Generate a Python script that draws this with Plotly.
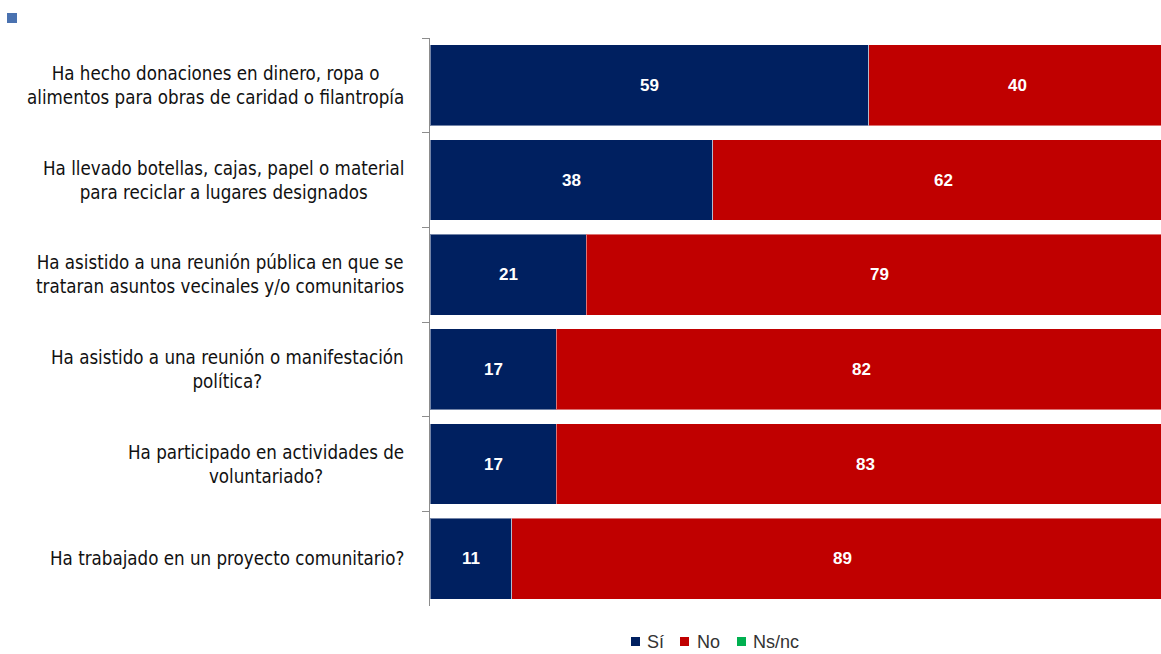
import plotly.graph_objects as go
import numpy as np

categories = [
    "Ha hecho donaciones en dinero, ropa o<br>alimentos para obras de caridad o filantropía",
    "Ha llevado botellas, cajas, papel o material<br>para reciclar a lugares designados",
    "Ha asistido a una reunión pública en que se<br>trataran asuntos vecinales y/o comunitarios",
    "Ha asistido a una reunión o manifestación<br>política?",
    "Ha participado en actividades de<br>voluntariado?",
    "Ha trabajado en un proyecto comunitario?",
]
series_names = ["Sí", "No", "Ns/nc"]
si = [59, 38, 21, 17, 17, 11]
no = [40, 62, 79, 82, 83, 89]
nsnc = [0, 0, 0, 1, 0, 0]
colors = ["#002060", "#C00000", "#00B050"]

W, H = 1161, 654
LABEL_FONT = "Liberation Sans Narrow, DejaVu Sans Condensed, Arial Narrow, sans-serif"
NUM_FONT = "Liberation Sans, Arial, sans-serif"

fig = go.Figure()
values = [si, no, nsnc]
for name, vals, col in zip(series_names, values, colors):
    fig.add_trace(go.Bar(
        y=categories, x=vals, name=name, orientation="h",
        marker=dict(color=col, line=dict(color="rgba(255,255,255,0.45)", width=1)),
        showlegend=False, hoverinfo="skip",
    ))

# value labels centred on each segment
cum = np.zeros(len(categories))
for vals in values:
    v = np.array(vals, dtype=float)
    for i, c in enumerate(categories):
        if v[i] > 0:
            fig.add_annotation(x=cum[i] + v[i] / 2, y=c, xref="x", yref="y",
                               text=f"<b>{int(v[i])}</b>", showarrow=False,
                               font=dict(color="white", size=17, family=NUM_FONT))
    cum += v

# category labels: right-aligned block, centred lines
for c in categories:
    fig.add_annotation(
        x=406 / W, xref="paper", xanchor="right", y=c, yref="y",
        text=c, showarrow=False, align="center",
        font=dict(size=18.6, color="#111111", family=LABEL_FONT),
    )

# small marker at top-left
fig.add_shape(type="rect", xref="paper", yref="paper",
              x0=7 / W, x1=17 / W, y0=1 - 13 / H, y1=1 - 23 / H,
              fillcolor="#4A72B0", line=dict(width=0))

# custom legend
leg_sq_x = [631, 680, 737]
leg_txt_x = [645, 695, 751]
leg_y = 642
for name, col, sx, tx in zip(series_names, colors, leg_sq_x, leg_txt_x):
    fig.add_shape(type="rect", xref="paper", yref="paper",
                  x0=sx / W, x1=(sx + 9) / W, y0=1 - (leg_y - 5) / H, y1=1 - (leg_y + 4) / H,
                  fillcolor=col, line=dict(width=0))
    fig.add_annotation(x=tx / W, y=1 - leg_y / H, xref="paper", yref="paper",
                       xanchor="left", yanchor="middle", text=name, showarrow=False,
                       font=dict(size=18, color="#333333", family=NUM_FONT))

fig.update_layout(
    width=W, height=H, barmode="stack", bargap=0.145,
    margin=dict(l=0, r=0, t=0, b=0),
    plot_bgcolor="white", paper_bgcolor="white",
    xaxis=dict(domain=[430 / W, 1], range=[0, 98.3], visible=False),
    yaxis=dict(domain=[(H - 606) / H, (H - 38) / H], autorange="reversed",
               showticklabels=False, showline=True, linecolor="#8c8c8c", linewidth=1,
               ticks="outside", ticklen=7, tickcolor="#8c8c8c", tickson="boundaries",
               showgrid=False),
    showlegend=False,
)
fig.write_html("out.html", config={"displayModeBar": False},
               post_script="document.body.style.margin='0';document.body.style.overflow='hidden';")
